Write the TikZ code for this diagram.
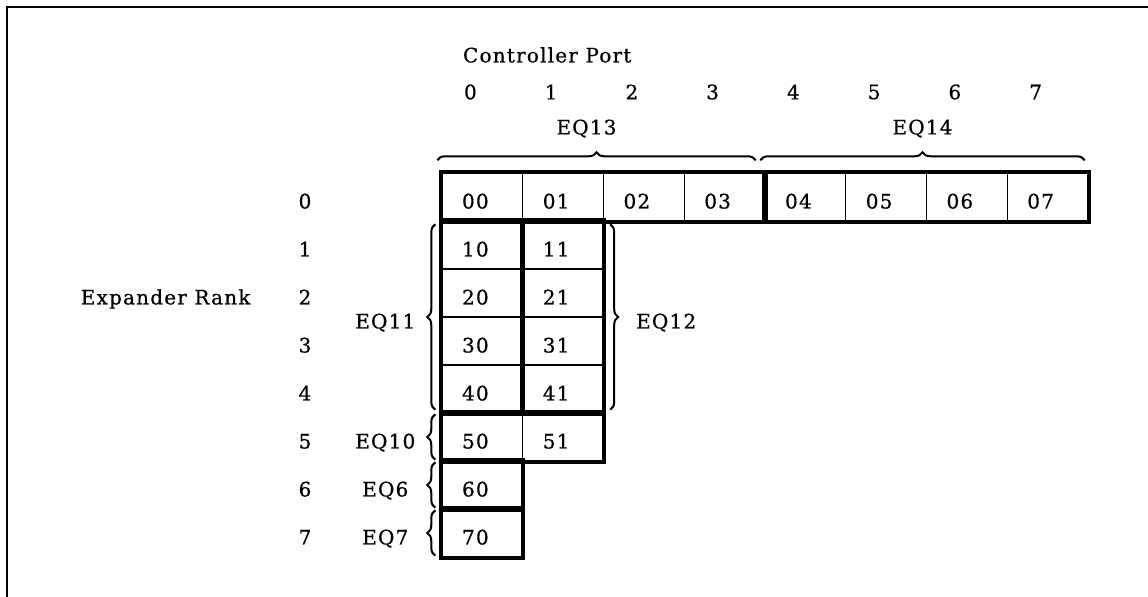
\documentclass[tikz,border=0pt]{standalone}
\usepackage{fontspec}
\setmainfont[LetterSpace=6,FakeBold=0.6]{DejaVu Serif}
\usetikzlibrary{positioning,decorations.pathreplacing}

\tikzset{
  low/.style={text height=11.5pt,text depth=0pt},
  cell/.style={draw,line width=.7pt,minimum width=40.375pt,minimum height=24pt,
    inner sep=0pt,low,execute at begin node={\kern-7pt}},
  group/.style={draw,line width=2pt},
  brc/.style={decorate,decoration={brace,amplitude=4pt},line width=1pt},
}

\begin{document}
\begin{tikzpicture}[x=.5pt,y=-.5pt,font=\fontsize{10}{12}\selectfont]
\useasboundingbox (0,0) rectangle (1148,597);
\draw[line width=1pt] (7,597) |- (1148,7);

% rank 0, all eight ports
\foreach \c in {0,...,7}
  \node[cell] (c0\c) at ({442+80.75*(\c+.5)},197) {0\c};
% ranks 1-5, ports 0 and 1
\foreach \r in {1,...,5}
  \foreach \c in {0,1}
    \node[cell] (c\r\c) at ({442+80.75*(\c+.5)},{173+48*(\r+.5)}) {\r\c};
\foreach \r in {6,7}
  \node[cell] (c\r0) at (482.375,{173+48*(\r+.5)}) {\r0};

\draw[group] (c00.north west) rectangle (c03.south east);
\draw[group] (c04.north west) rectangle (c07.south east);
\draw[group] (c10.north west) rectangle (c40.south east);
\draw[group] (c11.north west) rectangle (c41.south east);
\draw[group] (c50.north west) rectangle (c51.south east);
\draw[group] (c60.north west) rectangle (c60.south east);
\draw[group] (c70.north west) rectangle (c70.south east);

% port and rank numbers
\node[anchor=west] (ctl) at (456,55) {Controller Port};
\foreach \c in {0,...,7}
  \node (p\c) at ({442+80.75*(\c+.5)-12},92) {\c};
\foreach \r in {0,...,7}
  \node[low] (r\r) at (305,{173+48*(\r+.5)}) {\r};
\node[low,left=17pt of r2] (rank) {Expander Rank};

% braces
\draw[brc] ([xshift=-2pt,yshift=6pt]c00.north west) -- node[above=7.5pt,xshift=-5pt] (eq13) {EQ13}
  ([xshift=-5pt,yshift=6pt]c03.north east);
\draw[brc] ([xshift=-2pt,yshift=6pt]c04.north west) -- node[above=7.5pt] (eq14) {EQ14}
  ([xshift=-2pt,yshift=6pt]c07.north east);
\draw[brc] ([xshift=-3pt,yshift=2pt]c40.south west) -- node[low,xshift=-25pt] (eq11) {EQ11}
  ([xshift=-3pt,yshift=-2pt]c10.north west);
\draw[brc] ([xshift=3pt,yshift=-2pt]c11.north east) -- node[low,xshift=28pt] (eq12) {EQ12}
  ([xshift=3pt,yshift=2pt]c41.south east);
\draw[brc] ([xshift=-3pt,yshift=1pt]c50.south west) -- node[low,xshift=-25pt] (eq10) {EQ10}
  ([xshift=-3pt,yshift=-1pt]c50.north west);
\draw[brc] ([xshift=-3pt,yshift=1pt]c60.south west) -- node[low,xshift=-25pt] (eq6) {EQ6}
  ([xshift=-3pt,yshift=-1pt]c60.north west);
\draw[brc] ([xshift=-3pt,yshift=1pt]c70.south west) -- node[low,xshift=-25pt] (eq7) {EQ7}
  ([xshift=-3pt,yshift=-1pt]c70.north west);
\end{tikzpicture}
\end{document}
